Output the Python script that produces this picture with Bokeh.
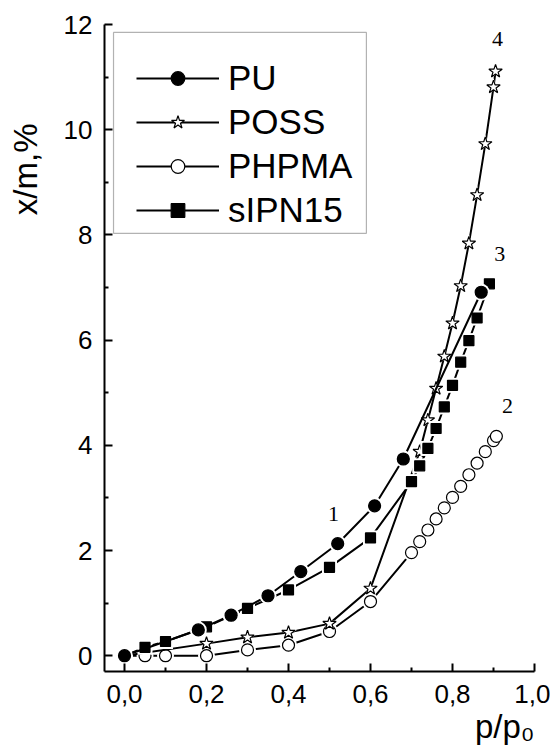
from bokeh.plotting import figure
from bokeh.models import (Range1d, FixedTicker, Legend, LegendItem, Label, ColumnDataSource,
                          Title, BoxAnnotation)
from bokeh.embed import file_html
from bokeh.resources import INLINE

# ---- data ----
pu_x = [0.0, 0.18, 0.26, 0.35, 0.43, 0.52, 0.61, 0.68, 0.87]
pu_y = [0.0, 0.49, 0.77, 1.14, 1.60, 2.13, 2.85, 3.74, 6.91]

poss_x = [0.0, 0.2, 0.3, 0.4, 0.5, 0.6, 0.72, 0.74, 0.76, 0.78, 0.80, 0.82, 0.84, 0.86, 0.88, 0.90, 0.905]
poss_y = [0.0, 0.23, 0.35, 0.44, 0.61, 1.28, 3.88, 4.48, 5.08, 5.69, 6.32, 7.03, 7.84, 8.76, 9.73, 10.81, 11.11]

phpma_x = [0.0, 0.05, 0.1, 0.2, 0.3, 0.4, 0.5, 0.6, 0.70, 0.72, 0.74, 0.76, 0.78, 0.80, 0.82, 0.84, 0.86, 0.88, 0.90, 0.907]
phpma_y = [0.0, 0.0, 0.0, 0.0, 0.11, 0.20, 0.46, 1.03, 1.96, 2.17, 2.39, 2.60, 2.81, 3.01, 3.22, 3.44, 3.66, 3.88, 4.09, 4.17]

sipn_x = [0.0, 0.05, 0.1, 0.2, 0.3, 0.4, 0.5, 0.6, 0.70, 0.72, 0.74, 0.76, 0.78, 0.80, 0.82, 0.84, 0.86, 0.89]
sipn_y = [0.0, 0.16, 0.27, 0.55, 0.90, 1.25, 1.68, 2.24, 3.31, 3.61, 3.94, 4.32, 4.73, 5.14, 5.58, 5.99, 6.42, 7.07]

x_ticks = [0.0, 0.2, 0.4, 0.6, 0.8, 1.0]
x_tick_labels = ["0,0", "0,2", "0,4", "0,6", "0,8", "1,0"]
y_ticks = [0, 2, 4, 6, 8, 10, 12]

curve_numbers = ["1", "2", "3", "4"]
curve_num_x = [0.51, 0.934, 0.915, 0.91]
curve_num_y = [2.70, 4.74, 7.64, 11.73]

SANS = "Liberation Sans"
SERIF = "Liberation Serif"

p = figure(width=550, height=746, output_backend="svg", toolbar_location=None,
           x_range=Range1d(-0.0488, 1.0), y_range=Range1d(-0.3, 12.0),
           min_border_left=104, min_border_right=16, min_border_top=24, min_border_bottom=75)
p.outline_line_color = None
p.grid.visible = False
p.background_fill_color = "white"

for ax in (p.xaxis[0], p.yaxis[0]):
    ax.axis_line_width = 2
    ax.axis_line_color = "black"
    ax.major_tick_in = 8
    ax.major_tick_out = 0
    ax.minor_tick_in = 4
    ax.minor_tick_out = 0
    ax.major_tick_line_width = 2
    ax.minor_tick_line_width = 2
    ax.major_label_text_font = SANS
    ax.major_label_text_font_size = "26px"
    ax.major_label_text_color = "black"

p.xaxis.ticker = FixedTicker(ticks=x_ticks, minor_ticks=[0.1, 0.3, 0.5, 0.7, 0.9])
p.xaxis.major_label_overrides = {t: l for t, l in zip(x_ticks, x_tick_labels)}
p.xaxis.major_label_standoff = 13
p.yaxis.ticker = FixedTicker(ticks=y_ticks, minor_ticks=[1, 3, 5, 7, 9, 11])
p.yaxis.major_label_standoff = 12
p.yaxis.axis_label = " "
p.yaxis.axis_label_text_font_size = "8px"
p.yaxis.axis_label_standoff = 5

def series(xs, ys, marker, size, fill, halo):
    src = ColumnDataSource(dict(x=xs, y=ys))
    ln = p.line("x", "y", source=src, line_color="black", line_width=2)
    h = p.scatter("x", "y", source=src, marker=marker, size=size + halo,
                  fill_color="white", line_color=None)
    m = p.scatter("x", "y", source=src, marker=marker, size=size,
                  fill_color=fill, line_color="black", line_width=1.2)
    return [ln, h, m]

r_phpma = series(phpma_x, phpma_y, "circle", 12, "white", 5)
r_poss = series(poss_x, poss_y, "star", 14, "white", 4)
r_sipn = series(sipn_x, sipn_y, "square", 10, "black", 5)
r_pu = series(pu_x, pu_y, "circle", 12, "black", 5)

# legend frame
p.add_layout(BoxAnnotation(left=-0.0268, right=0.590, top=11.85, bottom=8.03,
                           fill_color="white", fill_alpha=1.0,
                           line_color="black", line_width=1.2, level="annotation"))

legend = Legend(items=[
    LegendItem(label="PU", renderers=r_pu),
    LegendItem(label="POSS", renderers=r_poss),
    LegendItem(label="PHPMA", renderers=r_phpma),
    LegendItem(label="sIPN15", renderers=r_sipn),
], location=(32, 439))
legend.label_text_font = SANS
legend.label_text_font_size = "35px"
legend.label_text_color = "black"
legend.glyph_width = 83
legend.glyph_height = 34
legend.label_height = 44
legend.label_standoff = 9
legend.spacing = 0
legend.padding = 0
legend.margin = 0
legend.border_line_color = None
legend.background_fill_alpha = 0.0
p.add_layout(legend, "center")

for t, x, y in zip(curve_numbers, curve_num_x, curve_num_y):
    p.add_layout(Label(x=x, y=y, text=t, text_font=SERIF, text_font_size="22px",
                       text_align="center", text_baseline="middle", text_color="black"))

# axis titles
t_y = Title(text="x/m,%", align="right", offset=99, text_font=SANS,
            text_font_size="33px", text_font_style="normal", text_color="black")
t_x = Title(text="p/p\u2080", align="right", text_font=SANS,
            text_font_size="33px", text_font_style="normal", text_color="black")
if "standoff" in Title.properties():
    t_y.standoff = 0
    t_x.standoff = 0
p.add_layout(t_y, "left")
p.add_layout(t_x, "below")

open("out.html", "w").write(file_html(p, INLINE))
